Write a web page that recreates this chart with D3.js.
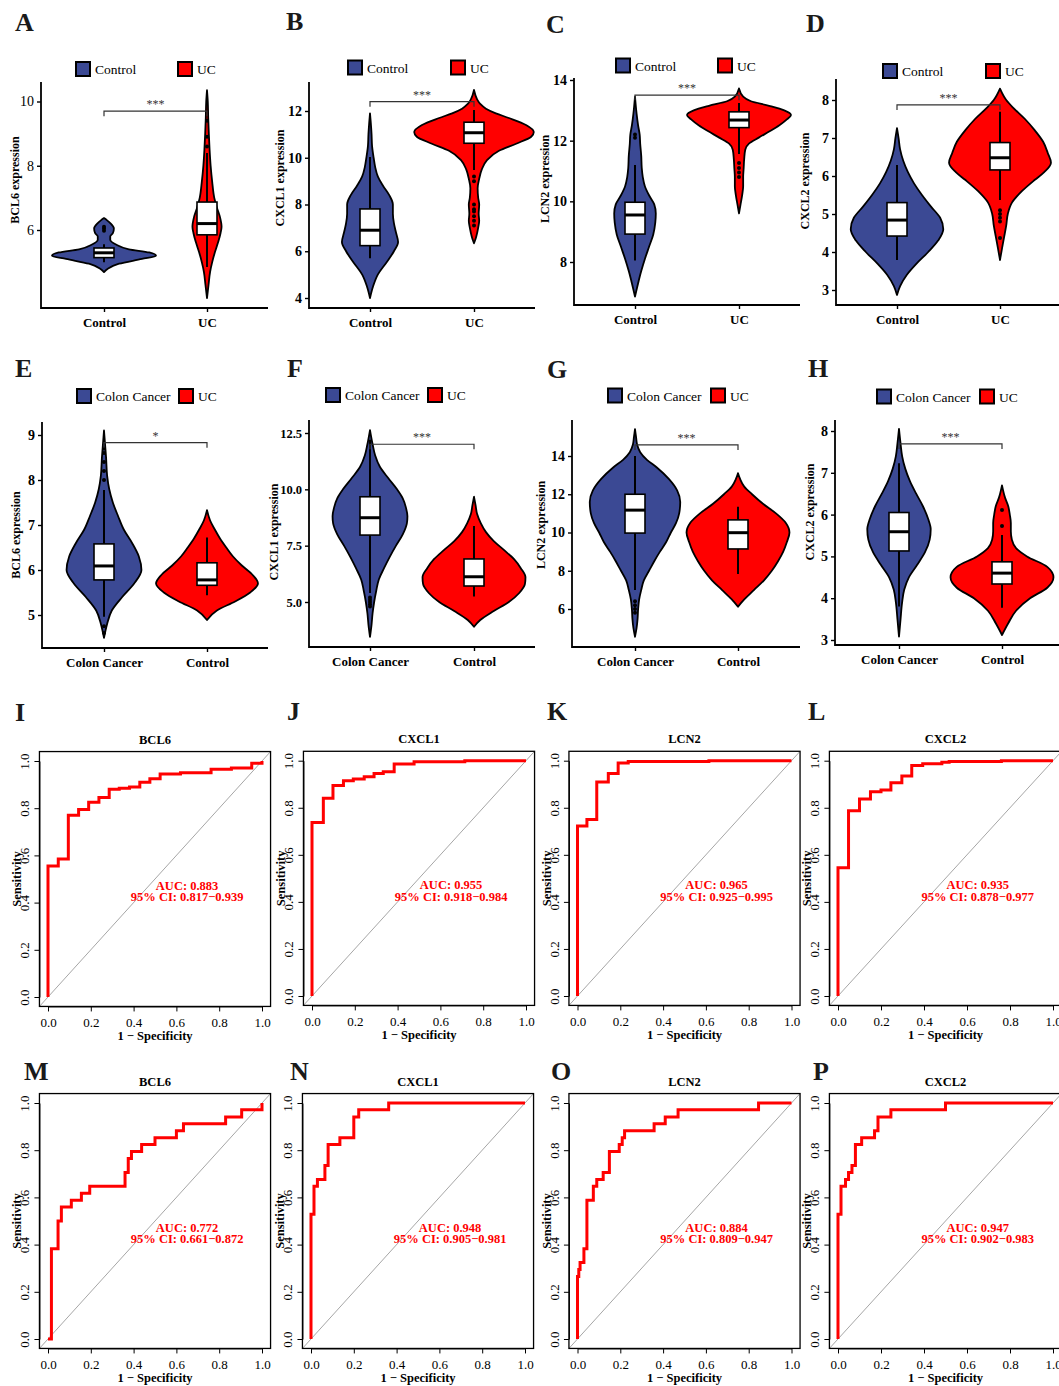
<!DOCTYPE html>
<html>
<head>
<meta charset="utf-8">
<script src="https://cdn.jsdelivr.net/npm/d3@7"></script>
<style>
body { margin: 0; background: #fff; }
svg { display: block; }
</style>
</head>
<body>
<div id="figure"></div>
<script>
const serif = '"Liberation Serif", "Times New Roman", Times, serif'
const blue = '#3b4994'
const red = '#ff0000'

// ---------- data ----------
const geneNames = ['BCL6', 'CXCL1', 'LCN2', 'CXCL2']
const ucGroups = ['Control', 'UC']
const ccGroups = ['Colon Cancer', 'Control']
const ucLegend = ['Control', 'UC']
const ccLegend = ['Colon Cancer', 'UC']
const violinLetters = ['A', 'B', 'C', 'D', 'E', 'F', 'G', 'H']
const rocLetters = ['I', 'J', 'K', 'L', 'M', 'N', 'O', 'P']

const ucTicks = [[6, 8, 10], [4, 6, 8, 10, 12], [8, 10, 12, 14], [3, 4, 5, 6, 7, 8]]
const ccTicks = [[5, 6, 7, 8, 9], [5, 7.5, 10, 12.5], [6, 8, 10, 12, 14], [3, 4, 5, 6, 7, 8]]
const ucSigns = ['***', '***', '***', '***']
const ccSigns = ['*', '***', '***', '***']
const ucBracket = [9.7, 12.4, 13.5, 7.87]
const ccBracket = [8.83, 12.0, 14.58, 7.69]

// violin density profiles: [expression, relative density]
const densUcControl = [
    [[4.69,0],[4.8,.08],[4.95,.29],[5.1,.73],[5.2,1],[5.3,.87],[5.4,.48],[5.55,.23],[5.7,.12],[5.8,.12],[5.9,.17],[6.05,.19],[6.2,.13],[6.3,.06],[6.37,0]],
    [[4,0],[4.5,.06],[5,.15],[5.5,.31],[6,.46],[6.4,.54],[6.8,.5],[7.2,.46],[7.6,.44],[8,.44],[8.4,.37],[8.8,.25],[9.2,.15],[9.6,.1],[10,.07],[10.5,.04],[11,.03],[11.5,.015],[11.9,0]],
    [[6.86,0],[7.3,.06],[7.7,.12],[8.1,.19],[8.5,.27],[8.9,.35],[9.3,.39],[9.6,.4],[9.9,.37],[10.2,.27],[10.5,.19],[10.8,.15],[11.1,.13],[11.5,.12],[11.9,.1],[12.2,.09],[12.5,.06],[12.9,.03],[13.45,0]],
    [[2.87,0],[3.1,.06],[3.4,.19],[3.7,.38],[4,.6],[4.3,.79],[4.6,.89],[4.9,.83],[5.2,.65],[5.5,.48],[5.8,.33],[6.1,.21],[6.4,.12],[6.7,.06],[7,.03],[7.26,0]]
]
const densUcUC = [
    [[3.88,0],[4.3,.03],[4.7,.06],[5,.1],[5.3,.15],[5.6,.21],[5.9,.26],[6.1,.28],[6.4,.25],[6.7,.19],[7,.14],[7.5,.1],[8,.07],[8.5,.05],[9,.035],[9.5,.023],[10,.015],[10.35,0]],
    [[6.34,0],[6.6,.04],[7,.08],[7.3,.1],[7.6,.09],[8,.1],[8.3,.08],[8.7,.07],[9.1,.1],[9.5,.15],[9.9,.25],[10.3,.48],[10.6,.81],[10.9,1.1],[11.1,1.15],[11.4,1],[11.7,.67],[11.9,.42],[12.1,.23],[12.3,.12],[12.5,.06],[12.9,0]],
    [[9.6,0],[9.9,.03],[10.2,.06],[10.5,.08],[10.8,.08],[11.1,.09],[11.4,.1],[11.7,.12],[11.9,.19],[12.1,.38],[12.3,.58],[12.5,.77],[12.7,.92],[12.85,1],[13,.87],[13.15,.58],[13.3,.23],[13.45,.08],[13.72,0]],
    [[3.79,0],[4.1,.04],[4.4,.08],[4.7,.12],[5,.15],[5.3,.23],[5.6,.42],[5.9,.67],[6.1,.85],[6.35,.98],[6.6,.92],[6.9,.83],[7.2,.67],[7.5,.48],[7.8,.25],[8,.12],[8.3,0]]
]
const densCcCancer = [
    [[4.49,0],[4.8,.06],[5.1,.15],[5.4,.35],[5.7,.58],[6,.72],[6.3,.67],[6.6,.54],[6.9,.38],[7.2,.27],[7.5,.17],[7.8,.1],[8.1,.06],[8.5,.04],[8.8,.02],[9.1,0]],
    [[3.45,0],[4,.03],[4.5,.05],[5,.08],[5.5,.12],[6,.17],[6.5,.27],[7,.38],[7.5,.5],[8,.63],[8.5,.71],[8.8,.72],[9.2,.69],[9.6,.63],[10,.52],[10.5,.35],[11,.19],[11.5,.1],[12,.05],[12.63,0]],
    [[4.55,0],[5,.03],[5.5,.05],[6,.06],[6.5,.08],[7,.12],[7.5,.17],[8,.27],[8.5,.37],[9,.48],[9.5,.6],[10,.69],[10.5,.79],[11,.85],[11.6,.87],[12.2,.81],[12.8,.65],[13.4,.42],[13.8,.23],[14.2,.1],[14.6,.04],[15,.02],[15.4,0]],
    [[3.08,0],[3.5,.03],[3.9,.06],[4.2,.1],[4.5,.19],[4.8,.35],[5.1,.5],[5.4,.59],[5.65,.61],[5.9,.56],[6.2,.46],[6.5,.33],[6.8,.21],[7.1,.12],[7.4,.06],[7.7,.03],[8.05,0]]
]
const densCcControl = [
    [[4.89,0],[5.1,.19],[5.3,.54],[5.5,.83],[5.7,.98],[5.9,.87],[6.1,.67],[6.3,.5],[6.5,.37],[6.7,.25],[6.9,.15],[7.1,.06],[7.33,0]],
    [[3.9,0],[4.2,.12],[4.6,.38],[5,.67],[5.4,.87],[5.8,.98],[6.1,.99],[6.5,.9],[6.9,.77],[7.3,.58],[7.7,.38],[8.1,.23],[8.5,.13],[8.9,.06],[9.3,.03],[9.67,0]],
    [[6.12,0],[6.5,.12],[7,.31],[7.5,.5],[8,.65],[8.5,.77],[9,.87],[9.5,.94],[10,.99],[10.5,.92],[11,.73],[11.5,.48],[12,.27],[12.4,.12],[12.8,.04],[13.1,0]],
    [[3.12,0],[3.4,.12],[3.7,.27],[4,.54],[4.25,.87],[4.5,.99],[4.75,.87],[5,.48],[5.2,.27],[5.4,.19],[5.6,.17],[5.8,.17],[6,.15],[6.2,.12],[6.4,.06],[6.7,0]]
]

// boxes: [lower whisker, q1, median, q3, upper whisker]
const boxUcControl = [[5.0,5.14,5.29,5.44,5.56],[5.7,6.24,6.9,7.81,10.03],[8.05,8.92,9.55,9.97,11.2],[3.79,4.42,4.84,5.3,6.29]]
const boxUcUC = [[4.85,5.85,6.2,6.87,8.4],[9.48,10.62,11.07,11.52,12.04],[11.56,12.43,12.68,12.95,13.24],[5.37,6.16,6.48,6.88,7.69]]
const boxCcCancer = [[4.96,5.78,6.09,6.58,7.78],[5.4,7.97,8.74,9.67,12.2],[7.0,9.97,11.17,12.0,14.0],[3.8,5.13,5.59,6.05,7.23]]
const boxCcControl = [[5.44,5.66,5.78,6.16,6.72],[5.24,5.71,6.12,6.91,8.37],[7.83,9.14,9.99,10.66,11.35],[3.77,4.34,4.6,4.87,5.51]]

const outUcControl = [[5.98,6.05,6.1],[],[12.1,12.2],[]]
const outUcUC = [[8.6,8.9,9.4],[7.1,7.3,7.5,7.7,7.8,8.0,9.0,9.2],[10.8,10.95,11.1,11.26],[4.37,4.8,4.9,5.0,5.1]]
const outCcCancer = [[4.6,4.75,8.0,8.2,8.4,8.6,8.7],[4.8,4.9,5.0,5.1,5.2],[5.8,6.0,6.2,6.4],[]]
const outCcControl = [[],[],[],[5.73,6.11]]

// ROC curves: [1 - specificity, sensitivity] corners
const rocUc = [
    [[0,0],[0,.555],[.048,.585],[.095,.77],[.143,.795],[.19,.825],[.238,.845],[.286,.88],[.333,.885],[.381,.89],[.429,.91],[.476,.925],[.524,.945],[.619,.95],[.762,.965],[.857,.97],[.952,.99],[1,1]],
    [[0,0],[0,.737],[.053,.84],[.098,.895],[.147,.915],[.193,.922],[.244,.932],[.29,.946],[.333,.953],[.384,.986],[.477,.996],[.714,1],[1,1]],
    [[0,0],[0,.722],[.044,.75],[.09,.91],[.144,.946],[.19,.99],[.237,.997],[.614,1],[1,1]],
    [[0,0],[0,.545],[.049,.787],[.1,.837],[.151,.868],[.2,.875],[.246,.906],[.297,.935],[.343,.98],[.394,.987],[.483,.993],[.517,.997],[.76,1],[1,1]]
]
const rocCc = [
    [[0,0],[.016,.382],[.047,.5],[.0625,.559],[.109,.588],[.156,.618],[.195,.647],[.36,.706],[.375,.765],[.39,.794],[.4375,.824],[.5,.853],[.6,.882],[.633,.912],[.83,.941],[.905,.971],[1,1]],
    [[0,0],[0,.529],[.014,.647],[.03,.676],[.065,.735],[.08,.824],[.135,.853],[.2,.941],[.223,.971],[.363,1],[1,1]],
    [[0,0],[0,.265],[.006,.294],[.012,.324],[.03,.382],[.044,.588],[.074,.647],[.09,.676],[.12,.706],[.149,.794],[.195,.824],[.209,.853],[.22,.882],[.358,.912],[.41,.941],[.47,.971],[.846,1],[1,1]],
    [[0,0],[0,.529],[.014,.647],[.035,.676],[.049,.706],[.065,.735],[.081,.824],[.11,.853],[.17,.882],[.186,.941],[.246,.971],[.5,1],[1,1]]
]
const aucUc = ['0.883', '0.955', '0.965', '0.935']
const ciUc = ['0.817\u22120.939', '0.918\u22120.984', '0.925\u22120.995', '0.878\u22120.977']
const aucCc = ['0.772', '0.948', '0.884', '0.947']
const ciCc = ['0.661\u22120.872', '0.905\u22120.981', '0.809\u22120.947', '0.902\u22120.983']
const rocTicks = [0, 0.2, 0.4, 0.6, 0.8, 1.0]

// ---------- layout ----------
const ucPanels = [
    {left: 41, right: 268, top: 82, bottom: 308, cats: [104, 207], calib: [6, 10, 230, 101.5], legendX: [76, 178], legendY: 69, titleX: 15, titleY: 180, letterPos: [15, 31], boldTicks: false, tickFont: 14},
    {left: 309, right: 535, top: 82, bottom: 308, cats: [370, 474], calib: [4, 12, 298, 111], legendX: [348, 451], legendY: 67.5, titleX: 280, titleY: 178, letterPos: [286, 30], boldTicks: true, tickFont: 14},
    {left: 574, right: 800, top: 78, bottom: 305, cats: [635, 739], calib: [8, 14, 262, 80], legendX: [616, 718], legendY: 65.5, titleX: 545, titleY: 179, letterPos: [546, 33], boldTicks: true, tickFont: 14},
    {left: 836, right: 1059, top: 79, bottom: 305, cats: [897, 1000], calib: [3, 8, 290, 100], legendX: [883, 986], legendY: 71, titleX: 805, titleY: 181, letterPos: [806, 32], boldTicks: true, tickFont: 14}
]
const ccPanels = [
    {left: 42, right: 268, top: 422, bottom: 648, cats: [104, 207], calib: [5, 9, 615, 435], legendX: [77, 179], legendY: 396, titleX: 16, titleY: 535, letterPos: [15, 377], boldTicks: true, tickFont: 14},
    {left: 309, right: 535, top: 420, bottom: 647, cats: [370, 474], calib: [5, 12.5, 602, 433], legendX: [326, 428], legendY: 395, titleX: 274, titleY: 532, letterPos: [287, 377], boldTicks: true, tickFont: 12.5},
    {left: 572, right: 800, top: 420, bottom: 647, cats: [635, 738], calib: [6, 14, 609, 456], legendX: [608, 711], legendY: 395.5, titleX: 541, titleY: 525, letterPos: [547, 378], boldTicks: true, tickFont: 14},
    {left: 835, right: 1059, top: 420, bottom: 645, cats: [899, 1002], calib: [3, 8, 640, 431], legendX: [877, 980], legendY: 396.5, titleX: 810, titleY: 512, letterPos: [808, 377], boldTicks: true, tickFont: 14}
]
const rocPanels = [
    {x0: 48, x1: 262, y0: 997, y1: 761, letterPos: [15, 721]},
    {x0: 312, x1: 526, y0: 996, y1: 760.7, letterPos: [287, 720]},
    {x0: 577.5, x1: 791.5, y0: 996, y1: 760.7, letterPos: [547, 720]},
    {x0: 838, x1: 1053, y0: 996, y1: 760.7, letterPos: [808, 720]},
    {x0: 48, x1: 262, y0: 1339, y1: 1103, letterPos: [24, 1080]},
    {x0: 311, x1: 525, y0: 1339, y1: 1103, letterPos: [290, 1080]},
    {x0: 577.5, x1: 791.5, y0: 1339, y1: 1103, letterPos: [551, 1080]},
    {x0: 838, x1: 1053, y0: 1339, y1: 1103, letterPos: [813, 1080]}
]

const svg = d3.select('#figure').append('svg')
    .attr('width', 1059).attr('height', 1386)
    .style('font-family', serif)
svg.append('rect').attr('width', 1059).attr('height', 1386).attr('fill', '#fff')

function panelLetter(g, pos, letter) {
    g.append('text').attr('x', pos[0]).attr('y', pos[1]).text(letter)
        .style('font-size', '26px').style('font-weight', 'bold').attr('fill', '#1a1a1a')
}

function drawViolinPanel(p, groups, legendNames, dens, boxes, outs, ticks, sign, bracketAt, title, letter) {
    let g = svg.append('g')
    let y = d3.scaleLinear().domain([p.calib[0], p.calib[1]]).range([p.calib[2], p.calib[3]])
    let x = d3.scalePoint().domain(groups).range(p.cats)
    let w = d3.scaleLinear().domain([0, 1]).range([0, 52])
    let colors = [blue, red]

    panelLetter(g, p.letterPos, letter)

    legendNames.forEach((name, i) => {
        g.append('rect').attr('x', p.legendX[i]).attr('y', p.legendY - 7)
            .attr('width', 14).attr('height', 14)
            .attr('fill', colors[i]).attr('stroke', '#000').attr('stroke-width', 2)
        g.append('text').attr('x', p.legendX[i] + 19).attr('y', p.legendY + 5)
            .text(name).style('font-size', '13.5px')
    })

    groups.forEach((grp, i) => {
        let cx = x(grp)
        let area = d3.area().curve(d3.curveMonotoneY)
            .y(d => y(d[0]))
            .x0(d => cx - w(d[1]))
            .x1(d => cx + w(d[1]))
        g.append('path').datum(dens[i]).attr('d', area)
            .attr('fill', colors[i]).attr('stroke', '#000').attr('stroke-width', 1.8)
            .attr('stroke-linejoin', 'round')
    })

    groups.forEach((grp, i) => {
        let cx = x(grp)
        let b = boxes[i]
        g.append('line').attr('x1', cx).attr('x2', cx).attr('y1', y(b[0])).attr('y2', y(b[4]))
            .attr('stroke', '#000').attr('stroke-width', 2)
        g.append('rect').attr('x', cx - 10).attr('width', 20)
            .attr('y', y(b[3])).attr('height', y(b[1]) - y(b[3]))
            .attr('fill', '#fff').attr('stroke', '#000').attr('stroke-width', 1.6)
        g.append('line').attr('x1', cx - 10).attr('x2', cx + 10).attr('y1', y(b[2])).attr('y2', y(b[2]))
            .attr('stroke', '#000').attr('stroke-width', 3)
        outs[i].forEach(v => {
            g.append('circle').attr('cx', cx).attr('cy', y(v)).attr('r', 2).attr('fill', '#000')
        })
    })

    // significance bracket
    let by = y(bracketAt)
    let bx0 = x(groups[0]), bx1 = x(groups[1])
    g.append('path').attr('d', 'M' + bx0 + ',' + (by + 5) + 'V' + by + 'H' + bx1 + 'V' + (by + 5))
        .attr('fill', 'none').attr('stroke', '#333').attr('stroke-width', 1.2)
    g.append('text').attr('x', (bx0 + bx1) / 2).attr('y', by - 3).attr('text-anchor', 'middle')
        .text(sign).style('font-size', '12px').attr('fill', '#333')

    // axes
    let fmt = ticks.some(t => t % 1 !== 0) ? d3.format('.1f') : d3.format('d')
    let yAxis = g.append('g').attr('transform', 'translate(' + p.left + ',0)')
        .call(d3.axisLeft(y).tickValues(ticks).tickSize(4).tickFormat(fmt))
    yAxis.select('.domain').remove()
    yAxis.attr('font-family', serif).attr('font-size', p.tickFont)
        .attr('font-weight', p.boldTicks ? 'bold' : 'normal')
    yAxis.selectAll('line').attr('stroke-width', 1.4)

    let xAxis = g.append('g').attr('transform', 'translate(0,' + p.bottom + ')')
        .call(d3.axisBottom(x).tickSize(4).tickPadding(6))
    xAxis.select('.domain').remove()
    xAxis.attr('font-family', serif).attr('font-size', 13).attr('font-weight', 'bold')
    xAxis.selectAll('line').attr('stroke-width', 1.4)

    g.append('path').attr('d', 'M' + p.left + ',' + p.top + 'V' + p.bottom + 'H' + p.right)
        .attr('fill', 'none').attr('stroke', '#000').attr('stroke-width', 1.8)

    g.append('text').attr('transform', 'translate(' + (p.titleX + 4) + ',' + p.titleY + ')rotate(-90)')
        .attr('text-anchor', 'middle').text(title)
        .style('font-size', '12px').style('font-weight', 'bold')
}

function drawRocPanel(p, curve, gene, auc, ci, letter) {
    let g = svg.append('g')
    let x = d3.scaleLinear().domain([0, 1]).range([p.x0, p.x1])
    let y = d3.scaleLinear().domain([0, 1]).range([p.y0, p.y1])
    let left = x(-0.04), right = x(1.04), top = y(1.04), bottom = y(-0.04)

    panelLetter(g, p.letterPos, letter)

    g.append('text').attr('x', (left + right) / 2).attr('y', top - 8).attr('text-anchor', 'middle')
        .text(gene).style('font-size', '12.5px').style('font-weight', 'bold')

    g.append('line').attr('x1', left).attr('y1', bottom).attr('x2', right).attr('y2', top)
        .attr('stroke', '#a6a6a6').attr('stroke-width', 1)

    let line = d3.line().curve(d3.curveStepAfter).x(d => x(d[0])).y(d => y(d[1]))
    g.append('path').datum(curve).attr('d', line)
        .attr('fill', 'none').attr('stroke', red).attr('stroke-width', 3)

    g.append('rect').attr('x', left).attr('y', top).attr('width', right - left).attr('height', bottom - top)
        .attr('fill', 'none').attr('stroke', '#000').attr('stroke-width', 1.3)

    let xAxis = g.append('g').attr('transform', 'translate(0,' + bottom + ')')
        .call(d3.axisBottom(x).tickValues(rocTicks).tickFormat(d3.format('.1f')).tickSize(5).tickSizeOuter(0).tickPadding(6))
    xAxis.attr('font-family', serif).attr('font-size', 13)

    let yAxis = g.append('g').attr('transform', 'translate(' + left + ',0)')
        .call(d3.axisLeft(y).tickValues(rocTicks).tickFormat(d3.format('.1f')).tickSize(5).tickSizeOuter(0))
    yAxis.attr('font-family', serif).attr('font-size', 13)
    yAxis.selectAll('text').attr('x', 0).attr('dy', 0).attr('text-anchor', 'middle')
        .attr('transform', 'translate(-10,0)rotate(-90)')

    g.append('text').attr('x', (left + right) / 2).attr('y', bottom + 34).attr('text-anchor', 'middle')
        .text('1 \u2212 Specificity').style('font-size', '12.5px').style('font-weight', 'bold')
    g.append('text').attr('transform', 'translate(' + (left - 18) + ',' + ((p.y0 + p.y1) / 2) + ')rotate(-90)')
        .attr('text-anchor', 'middle').text('Sensitivity')
        .style('font-size', '12.5px').style('font-weight', 'bold')

    g.append('text').attr('x', x(0.65)).attr('y', y(0.455)).attr('text-anchor', 'middle')
        .text('AUC: ' + auc).attr('fill', red).style('font-size', '12.5px').style('font-weight', 'bold')
    g.append('text').attr('x', x(0.65)).attr('y', y(0.405)).attr('text-anchor', 'middle')
        .text('95% CI: ' + ci).attr('fill', red).style('font-size', '12.5px').style('font-weight', 'bold')
}

for (let i = 0; i < 4; i++) {
    drawViolinPanel(ucPanels[i], ucGroups, ucLegend, [densUcControl[i], densUcUC[i]],
        [boxUcControl[i], boxUcUC[i]], [outUcControl[i], outUcUC[i]],
        ucTicks[i], ucSigns[i], ucBracket[i], geneNames[i] + ' expression', violinLetters[i])
    drawViolinPanel(ccPanels[i], ccGroups, ccLegend, [densCcCancer[i], densCcControl[i]],
        [boxCcCancer[i], boxCcControl[i]], [outCcCancer[i], outCcControl[i]],
        ccTicks[i], ccSigns[i], ccBracket[i], geneNames[i] + ' expression', violinLetters[i + 4])
}
for (let i = 0; i < 4; i++) {
    drawRocPanel(rocPanels[i], rocUc[i], geneNames[i], aucUc[i], ciUc[i], rocLetters[i])
    drawRocPanel(rocPanels[i + 4], rocCc[i], geneNames[i], aucCc[i], ciCc[i], rocLetters[i + 4])
}
</script>
</body>
</html>
